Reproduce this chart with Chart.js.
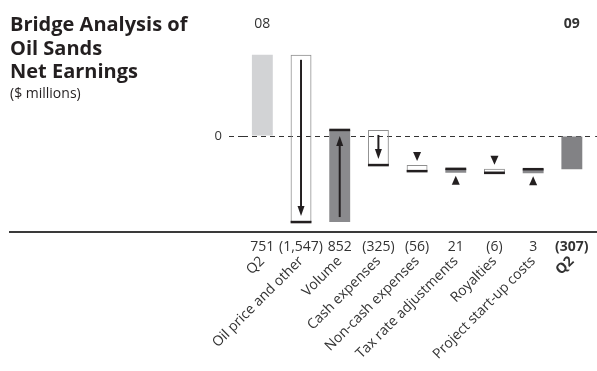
<!DOCTYPE html>
<html>
<head>
<meta charset="utf-8">
<script src="https://cdn.jsdelivr.net/npm/chart.js@4/dist/chart.umd.min.js"></script>
<style>
  html, body { margin: 0; padding: 0; background: #fff; }
  #wrap { width: 597px; height: 371px; position: relative; }
</style>
</head>
<body>
<div id="wrap"><canvas id="c" width="597" height="371"></canvas></div>
<script>
// Oil Sands net earnings bridge, Q2 2008 to Q2 2009 ($ millions)
const categories = ['Q2', 'Oil price and other', 'Volume', 'Cash expenses', 'Non-cash expenses',
                    'Tax rate adjustments', 'Royalties', 'Project start-up costs', 'Q2'];
const changes = [751, -1547, 852, -325, -56, 21, -6, 3, -307];
const periodLabels = ['08', '', '', '', '', '', '', '', '09'];
const totalFlags = [true, false, false, false, false, false, false, false, true];
const yTicks = [0];

const FONT = '"Open Sans", "Noto Sans", sans-serif';
const INK = '#231f20';

// floating [start, end] ranges: totals rise from zero, changes chain from the running sum
const ranges = [];
let running = 0;
changes.forEach((v, i) => {
  if (totalFlags[i]) { ranges.push([0, v]); running = v; }
  else { ranges.push([running, running + v]); running += v; }
});

const fmt = v => {
  const s = Math.abs(v).toLocaleString('en-US');
  return v < 0 ? '(' + s + ')' : s;
};

const fillFor = i => {
  if (i === 0) return '#d2d3d5';
  if (totalFlags[i]) return '#828285';
  return changes[i] > 0 ? '#8a8a8d' : 'rgba(255,255,255,0)';
};

const bridgeDecor = {
  id: 'bridgeDecor',
  beforeDraw(chart) {
    const ctx = chart.ctx;
    ctx.save();
    ctx.fillStyle = INK;
    ctx.textAlign = 'left';
    ctx.textBaseline = 'alphabetic';
    ctx.font = 'bold 20px ' + FONT;
    ['Bridge Analysis of', 'Oil Sands', 'Net Earnings'].forEach((t, k) => ctx.fillText(t, 10, 31 + k * 23.5));
    ctx.font = '14px ' + FONT;
    ctx.fillText('($ millions)', 10, 98);
    ctx.restore();
  },
  beforeDatasetsDraw(chart) {
    // carry the dashed zero line to the right edge
    const ctx = chart.ctx;
    const area = chart.chartArea;
    const y0 = Math.round(chart.scales.y.getPixelForValue(0)) + 0.5;
    ctx.save();
    ctx.strokeStyle = '#333';
    ctx.lineWidth = 1;
    ctx.setLineDash([5, 4]);
    ctx.beginPath();
    ctx.moveTo(area.right + 4, y0);
    ctx.lineTo(chart.width, y0);
    ctx.stroke();
    ctx.restore();
  },
  afterDatasetsDraw(chart) {
    const ctx = chart.ctx;
    const xs = chart.scales.x;
    const area = chart.chartArea;
    const meta = chart.getDatasetMeta(0);
    ctx.save();

    // axis rule under the plot
    ctx.fillStyle = '#3a3a3a';
    ctx.fillRect(9, area.bottom - 1, chart.width - 9, 2);

    ctx.fillStyle = INK;
    ctx.strokeStyle = INK;
    meta.data.forEach((el, i) => {
      if (totalFlags[i]) return;
      const { x, y, base, width } = el.getProps(['x', 'y', 'base', 'width'], true);
      const up = changes[i] > 0;
      const top = Math.min(y, base), bottom = Math.max(y, base);
      const endY = up ? top : bottom;
      const startY = up ? bottom : top;
      // heavy edge where the change ends
      ctx.fillRect(x - width / 2, endY - 1.25, width, 2.5);

      if (bottom - top > 20) {
        // arrow inside the bar, start to end
        const dir = up ? -1 : 1;
        const y0 = startY + dir * 5;
        const tip = endY - dir * 6;
        const headLen = 10;
        ctx.lineWidth = 2;
        ctx.beginPath();
        ctx.moveTo(x, y0);
        ctx.lineTo(x, tip - dir * headLen);
        ctx.stroke();
        ctx.beginPath();
        ctx.moveTo(x, tip);
        ctx.lineTo(x - 3.5, tip - dir * headLen);
        ctx.lineTo(x + 3.5, tip - dir * headLen);
        ctx.closePath();
        ctx.fill();
      } else {
        // small change: marker triangle outside the bar
        ctx.beginPath();
        if (up) {
          const t = bottom + 3;
          ctx.moveTo(x, t);
          ctx.lineTo(x - 4, t + 9);
          ctx.lineTo(x + 4, t + 9);
        } else {
          const b = top - 4;
          ctx.moveTo(x, b);
          ctx.lineTo(x - 4, b - 9);
          ctx.lineTo(x + 4, b - 9);
        }
        ctx.closePath();
        ctx.fill();
      }
    });

    // value row under the axis rule
    ctx.textAlign = 'center';
    ctx.textBaseline = 'middle';
    changes.forEach((v, i) => {
      ctx.font = (totalFlags[i] && i > 0 ? 'bold ' : '') + '14px ' + FONT;
      ctx.fillStyle = '#333';
      ctx.fillText(fmt(v), xs.getPixelForValue(i), area.bottom + 15);
    });

    // period markers above the totals
    periodLabels.forEach((t, i) => {
      if (!t) return;
      ctx.font = (i > 0 ? 'bold ' : '') + '14px ' + FONT;
      ctx.fillStyle = '#333';
      ctx.fillText(t, xs.getPixelForValue(i), 24);
    });
    ctx.restore();
  }
};

new Chart(document.getElementById('c'), {
  type: 'bar',
  data: {
    labels: categories,
    datasets: [{
      data: ranges,
      backgroundColor: changes.map((v, i) => fillFor(i)),
      borderColor: changes.map((v, i) => (!totalFlags[i] && v < 0) ? '#8f8f8f' : 'rgba(0,0,0,0)'),
      borderWidth: changes.map((v, i) => (!totalFlags[i] && v < 0) ? 1 : 0),
      borderSkipped: false,
      minBarLength: 4,
      categoryPercentage: 1,
      barPercentage: 0.54
    }]
  },
  options: {
    responsive: false,
    animation: false,
    events: [],
    layout: { padding: { top: 40, right: 5, left: 0, bottom: 0 } },
    plugins: { legend: { display: false }, tooltip: { enabled: false }, title: { display: false } },
    scales: {
      x: {
        grid: { display: false },
        border: { display: false },
        afterFit: s => { s.height = 139; },
        ticks: {
          autoSkip: false,
          minRotation: 45,
          maxRotation: 45,
          padding: 13,
          color: '#333',
          font: c => ({ family: FONT, size: 14, weight: c.index === 8 ? 'bold' : 'normal' })
        }
      },
      y: {
        min: -888,
        max: 888,
        afterBuildTicks: s => { s.ticks = yTicks.map(v => ({ value: v })); },
        afterFit: s => { s.width = 243; },
        grid: { color: '#333', lineWidth: 1, tickLength: 14, tickBorderDash: [5, 4] },
        border: { display: false, dash: [5, 4] },
        ticks: { padding: 7, color: '#333', font: { family: FONT, size: 13 } }
      }
    }
  },
  plugins: [bridgeDecor]
});
</script>
</body>
</html>
